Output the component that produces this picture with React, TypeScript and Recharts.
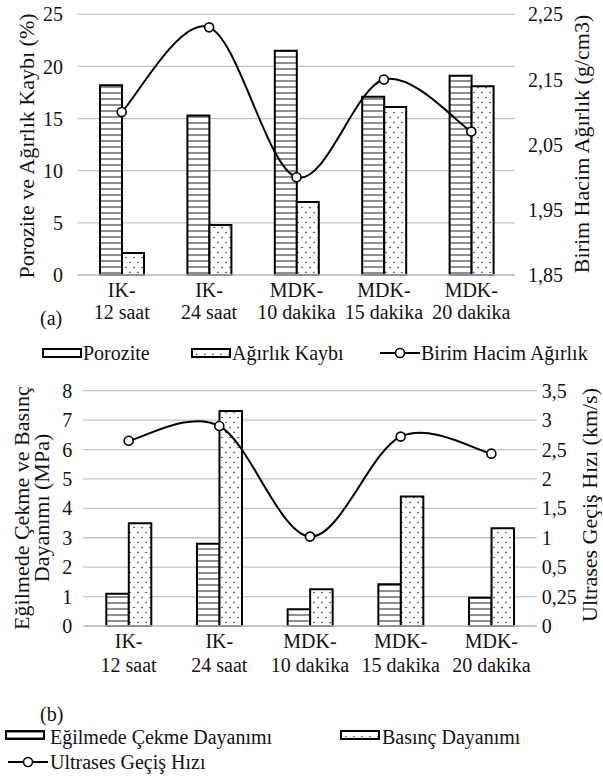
import React from 'react';
import { ComposedChart, Bar, Line, XAxis, YAxis, CartesianGrid } from 'recharts';

const font = "'Liberation Serif', 'DejaVu Serif', Tinos, 'Noto Serif', 'Times New Roman', Times, serif";

const categories = ['IK-\n12 saat', 'IK-\n24 saat', 'MDK-\n10 dakika', 'MDK-\n15 dakika', 'MDK-\n20 dakika'];

// (a)
const porozite = [18.2, 15.3, 21.5, 17.1, 19.1];
const agirlikKaybi = [2.1, 4.8, 7.0, 16.1, 18.1];
const birimHacim = [2.1, 2.23, 2.0, 2.15, 2.07];
const leftTicksA = [0, 5, 10, 15, 20, 25];
const rightTicksA = [1.85, 1.95, 2.05, 2.15, 2.25];

// (b)
const egilmede = [1.1, 2.8, 0.57, 1.42, 0.96];
const basinc = [3.49, 7.31, 1.25, 4.4, 3.32];
const ultrases = [2.65, 2.9, 1.02, 2.72, 2.43];
const leftTicksB = [0, 1, 2, 3, 4, 5, 6, 7, 8];
// right axis of (b) is not linear: each label sits on one gridline
const rightLabelsB = [0, 0.25, 0.5, 1, 1.5, 2, 2.5, 3, 3.5];

const toSlot = (v: number) => {
  for (let i = 0; i < rightLabelsB.length - 1; i++) {
    const a = rightLabelsB[i];
    const b = rightLabelsB[i + 1];
    if (v <= b) return i + (v - a) / (b - a);
  }
  return rightLabelsB.length - 1;
};

const dataA = categories.map((name, i) => ({
  name,
  porozite: porozite[i],
  agirlik: agirlikKaybi[i],
  birim: birimHacim[i],
}));

const dataB = categories.map((name, i) => ({
  name,
  egilmede: egilmede[i],
  basinc: basinc[i],
  ultrases: ultrases[i],
}));

const comma = (v: number, d = 2) => {
  const s = d > 0 ? v.toFixed(d) : String(v);
  return s.replace('.', ',');
};

// Excel-like smoothed line (Catmull-Rom)
const smooth = (context: any) => {
  let pts: number[][] = [];
  return {
    areaStart() {},
    areaEnd() {},
    lineStart() {
      pts = [];
    },
    point(x: number, y: number) {
      pts.push([+x, +y]);
    },
    lineEnd() {
      if (!pts.length) return;
      context.moveTo(pts[0][0], pts[0][1]);
      for (let i = 0; i < pts.length - 1; i++) {
        const p0 = pts[i - 1] || pts[i];
        const p1 = pts[i];
        const p2 = pts[i + 1];
        const p3 = pts[i + 2] || p2;
        context.bezierCurveTo(
          p1[0] + (p2[0] - p0[0]) / 6,
          p1[1] + (p2[1] - p0[1]) / 6,
          p2[0] - (p3[0] - p1[0]) / 6,
          p2[1] - (p3[1] - p1[1]) / 6,
          p2[0],
          p2[1]
        );
      }
    },
  };
};

const Patterns = ({ id }: { id: string }) => (
  <defs>
    <pattern id={`stripes-${id}`} patternUnits="userSpaceOnUse" width="6" height="6">
      <rect width="6" height="6" fill="#fff" />
      <line x1="0" y1="3" x2="6" y2="3" stroke="#444" strokeWidth="1.2" />
    </pattern>
    <pattern id={`dots-${id}`} patternUnits="userSpaceOnUse" width="8" height="10">
      <rect width="8" height="10" fill="#fff" />
      <circle cx="2" cy="2.5" r="0.8" fill="#333" />
      <circle cx="6" cy="7.5" r="0.8" fill="#333" />
    </pattern>
  </defs>
);

const XTick = ({ x, y, payload, g1, g2 }: any) => {
  const [a, b] = String(payload.value).split('\n');
  return (
    <g>
      <text x={x} y={y + g1} textAnchor="middle" fontSize={20} fontFamily={font} fill="#111">
        {a}
      </text>
      <text x={x} y={y + g2} textAnchor="middle" fontSize={20} fontFamily={font} fill="#111">
        {b}
      </text>
    </g>
  );
};

const tickStyle = { fontSize: 20, fontFamily: font, fill: '#111' };

const Title = ({ x, y, text }: { x: number; y: number; text: string }) => (
  <div
    style={{
      position: 'absolute',
      left: x,
      top: y,
      transform: 'translate(-50%, -50%) rotate(-90deg)',
      whiteSpace: 'nowrap',
      fontFamily: font,
      fontSize: 22,
      color: '#111',
    }}
  >
    {text}
  </div>
);

const Txt = ({ x, y, text, size = 20 }: { x: number; y: number; text: string; size?: number }) => (
  <div
    style={{
      position: 'absolute',
      left: x,
      top: y - 13,
      height: 26,
      lineHeight: '26px',
      whiteSpace: 'nowrap',
      fontFamily: font,
      fontSize: size,
      color: '#111',
    }}
  >
    {text}
  </div>
);

const BoxIcon = ({ x, y, fill, id }: { x: number; y: number; fill: string; id: string }) => (
  <svg style={{ position: 'absolute', left: x, top: y - 6 }} width={40} height={12}>
    <Patterns id={id} />
    <rect x={1} y={2} width={38} height={8} fill={fill} stroke="#000" strokeWidth={2} />
  </svg>
);

const LineIcon = ({ x, y }: { x: number; y: number }) => (
  <svg style={{ position: 'absolute', left: x, top: y - 7 }} width={40} height={14}>
    <line x1={0} y1={7} x2={40} y2={7} stroke="#000" strokeWidth={2} />
    <circle cx={20} cy={7} r={4.5} fill="#fff" stroke="#000" strokeWidth={1.6} />
  </svg>
);

const grid = '#c3c3c3';

const App: React.FC = () => {
  return (
    <div style={{ position: 'absolute', left: 0, top: 0, width: 603, height: 778, background: '#fff', fontFamily: font }}>
      <div style={{ position: 'absolute', left: 0, top: 0 }}>
        <ComposedChart
          width={603}
          height={340}
          data={dataA}
          margin={{ top: 14.3, right: 28, bottom: 15, left: 48 }}
          barGap={0}
        >
          <Patterns id="a" />
          <CartesianGrid vertical={false} yAxisId="left" stroke={grid} strokeWidth={1.3} />
          <XAxis
            dataKey="name"
            interval={0}
            height={50}
            tickLine={false}
            tickSize={0}
            tickMargin={0}
            axisLine={{ stroke: grid, strokeWidth: 1.5 }}
            tick={<XTick g1={22} g2={44} />}
          />
          <YAxis
            yAxisId="left"
            width={30}
            domain={[0, 25]}
            ticks={leftTicksA}
            axisLine={false}
            tickLine={false}
            tickSize={0}
            tickMargin={15}
            tick={tickStyle}
          />
          <YAxis
            yAxisId="right"
            orientation="right"
            width={60}
            domain={[1.85, 2.25]}
            ticks={rightTicksA}
            axisLine={false}
            tickLine={false}
            tickSize={0}
            tickMargin={13}
            tick={tickStyle}
            tickFormatter={(v: number) => comma(v)}
          />
          <Bar yAxisId="left" dataKey="porozite" barSize={22} fill="url(#stripes-a)" stroke="#000" strokeWidth={2} isAnimationActive={false} />
          <Bar yAxisId="left" dataKey="agirlik" barSize={22} fill="url(#dots-a)" stroke="#000" strokeWidth={2} isAnimationActive={false} />
          <Line
            yAxisId="right"
            dataKey="birim"
            type={smooth as any}
            stroke="#000"
            strokeWidth={2}
            dot={{ r: 4.5, fill: '#fff', stroke: '#000', strokeWidth: 1.6 }}
            activeDot={false}
            isAnimationActive={false}
          />
        </ComposedChart>
      </div>

      <Title x={27} y={146} text="Porozite ve Ağırlık Kaybı (%)" />
      <Title x={582} y={144} text="Birim Hacim Ağırlık (g/cm3)" />
      <Txt x={40} y={318} text="(a)" />

      <BoxIcon x={42} y={353} fill="#fff" id="la" />
      <Txt x={83} y={353} text="Porozite" />
      <BoxIcon x={191} y={353} fill="url(#dots-lb)" id="lb" />
      <Txt x={232} y={353} text="Ağırlık Kaybı" />
      <LineIcon x={380} y={353} />
      <Txt x={421} y={353} text="Birim Hacim Ağırlık" />

      <div style={{ position: 'absolute', left: 0, top: 360 }}>
        <ComposedChart
          width={603}
          height={320}
          data={dataB}
          margin={{ top: 30.7, right: 16.3, bottom: 0, left: 53.3 }}
          barGap={0}
        >
          <Patterns id="b" />
          <CartesianGrid vertical={false} yAxisId="left" stroke={grid} strokeWidth={1.3} />
          <XAxis
            dataKey="name"
            interval={0}
            height={54}
            tickLine={false}
            tickSize={0}
            tickMargin={0}
            axisLine={{ stroke: grid, strokeWidth: 1.5 }}
            tick={<XTick g1={22} g2={46} />}
          />
          <YAxis
            yAxisId="left"
            width={30}
            domain={[0, 8]}
            ticks={leftTicksB}
            axisLine={false}
            tickLine={false}
            tickSize={0}
            tickMargin={11}
            tick={tickStyle}
          />
          <YAxis
            yAxisId="right"
            orientation="right"
            width={50}
            domain={[0, rightLabelsB.length - 1]}
            ticks={rightLabelsB.map((_, i) => i)}
            axisLine={false}
            tickLine={false}
            tickSize={0}
            tickMargin={5}
            tick={tickStyle}
            tickFormatter={(i: number) => comma(rightLabelsB[i], 0)}
          />
          <Bar yAxisId="left" dataKey="egilmede" barSize={22.5} fill="url(#stripes-b)" stroke="#000" strokeWidth={2} isAnimationActive={false} />
          <Bar yAxisId="left" dataKey="basinc" barSize={22.5} fill="url(#dots-b)" stroke="#000" strokeWidth={2} isAnimationActive={false} />
          <Line
            yAxisId="right"
            dataKey={(d: any) => toSlot(d.ultrases)}
            name="ultrases"
            type={smooth as any}
            stroke="#000"
            strokeWidth={2}
            dot={{ r: 4.5, fill: '#fff', stroke: '#000', strokeWidth: 1.6 }}
            activeDot={false}
            isAnimationActive={false}
          />
        </ComposedChart>
      </div>

      <div
        style={{
          position: 'absolute',
          left: 32,
          top: 508,
          transform: 'translate(-50%, -50%) rotate(-90deg)',
          whiteSpace: 'nowrap',
          fontFamily: font,
          fontSize: 22,
          lineHeight: '20px',
          textAlign: 'center',
          color: '#111',
        }}
      >
        Eğilmede Çekme ve Basınç
        <br />
        Dayanımı (MPa)
      </div>
      <Title x={590} y={505} text="Ultrases Geçiş Hızı (km/s)" />
      <Txt x={40} y={714} text="(b)" />

      <BoxIcon x={5} y={735} fill="url(#stripes-lc)" id="lc" />
      <Txt x={50} y={737} text="Eğilmede Çekme Dayanımı" />
      <BoxIcon x={340} y={735} fill="url(#dots-ld)" id="ld" />
      <Txt x={382} y={737} text="Basınç Dayanımı" />
      <LineIcon x={8} y={762} />
      <Txt x={50} y={762} text="Ultrases Geçiş Hızı" />
    </div>
  );
};

export default App;
